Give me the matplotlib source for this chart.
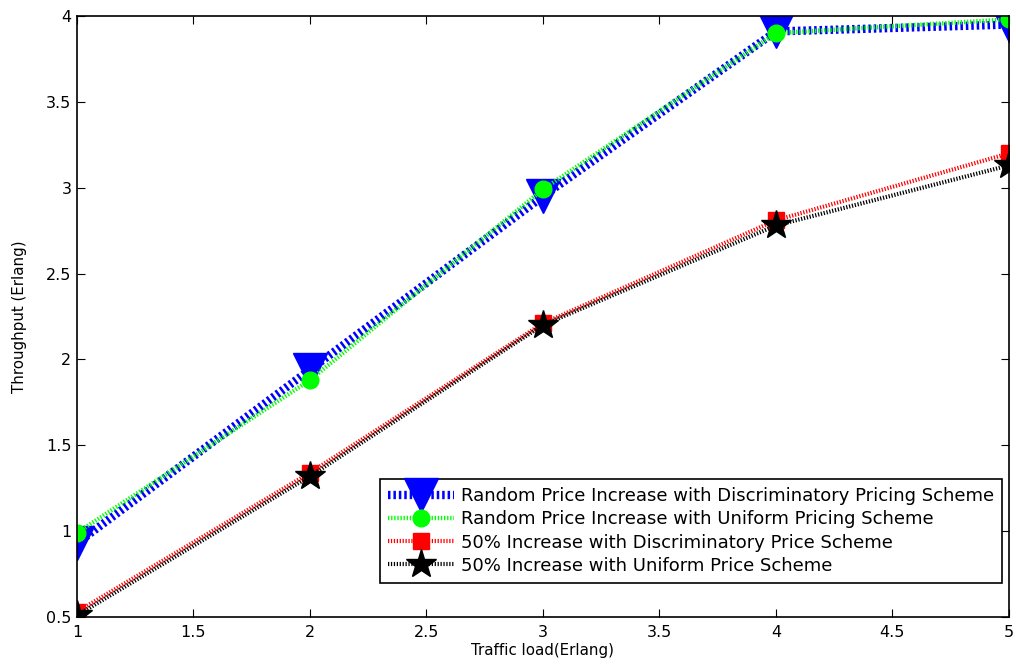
import matplotlib.pyplot as plt

plt.rcParams["font.family"] = ["DejaVu Sans"]

traffic_load = [1, 2, 3, 4, 5]
random_discriminatory = [0.93, 1.94, 2.95, 3.91, 3.95]
random_uniform = [0.99, 1.88, 2.99, 3.90, 3.98]
fifty_discriminatory = [0.53, 1.34, 2.21, 2.81, 3.20]
fifty_uniform = [0.51, 1.32, 2.20, 2.78, 3.13]

labels = [
    "Random Price Increase with Discriminatory Pricing Scheme",
    "Random Price Increase with Uniform Pricing Scheme",
    "50% Increase with Discriminatory Price Scheme",
    "50% Increase with Uniform Price Scheme",
]

fig = plt.figure(figsize=(10.16, 6.66), dpi=100)
ax = fig.add_axes([0.0758, 0.0736, 0.9172, 0.9024])

ax.plot(traffic_load, random_discriminatory, color="blue", linewidth=6,
        dashes=(0.3, 0.35), marker="v", markersize=24, label=labels[0])
ax.plot(traffic_load, random_uniform, color="#00ff00", linewidth=3.2,
        dashes=(0.3, 0.4), marker="o", markersize=12, label=labels[1])
ax.plot(traffic_load, fifty_discriminatory, color="red", linewidth=3,
        dashes=(0.3, 0.4), marker="s", markersize=12, label=labels[2])
ax.plot(traffic_load, fifty_uniform, color="black", linewidth=3,
        dashes=(0.3, 0.4), marker="*", markersize=22, label=labels[3])

ax.set_xlim(1, 5)
ax.set_ylim(0.5, 4)
ax.set_xticks([1, 1.5, 2, 2.5, 3, 3.5, 4, 4.5, 5])
ax.set_xticklabels(["1", "1.5", "2", "2.5", "3", "3.5", "4", "4.5", "5"])
ax.set_yticks([0.5, 1, 1.5, 2, 2.5, 3, 3.5, 4])
ax.set_yticklabels(["0.5", "1", "1.5", "2", "2.5", "3", "3.5", "4"])
ax.tick_params(direction="in", top=True, right=True, labelsize=11.5, length=6)
ax.tick_params(axis="x", pad=6)
ax.tick_params(axis="y", pad=4)
for spine in ax.spines.values():
    spine.set_linewidth(1.2)

ax.set_xlabel("Traffic load(Erlang)", fontsize=10.8, labelpad=2)
ax.set_ylabel("Throughput (Erlang)", fontsize=10.8, labelpad=14)

leg = ax.legend(loc="lower right", bbox_to_anchor=(0.9925, 0.057), fontsize=13,
                numpoints=1, fancybox=False, framealpha=1, edgecolor="black",
                handlelength=3.65, borderaxespad=0, labelspacing=0.28,
                borderpad=0.45, handletextpad=0.35)
leg.get_frame().set_linewidth(1.2)

fig.savefig("out.png", dpi=100)
